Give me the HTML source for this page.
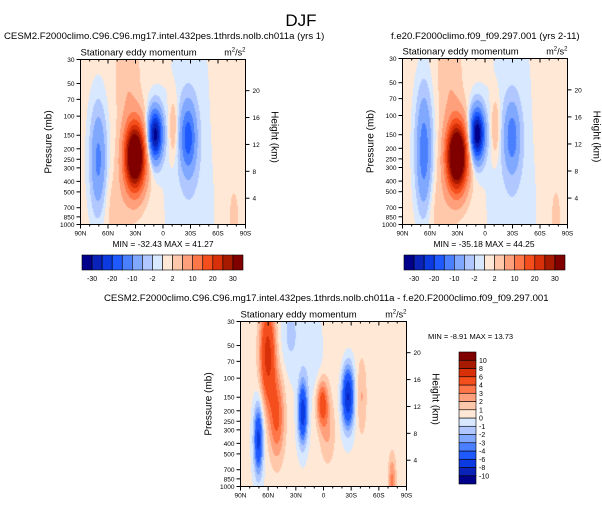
<!DOCTYPE html>
<html><head><meta charset="utf-8"><style>
body{margin:0;background:#fff;width:602px;height:505px;overflow:hidden;position:relative;font-family:"Liberation Sans",sans-serif}
canvas{position:absolute}
svg{position:absolute;left:0;top:0}
</style></head><body>
<canvas id="c1" width="165" height="165" style="left:80px;top:59px"></canvas>
<canvas id="c2" width="165" height="166" style="left:402px;top:58px"></canvas>
<canvas id="c3" width="166" height="165" style="left:240px;top:321px"></canvas>
<svg id="s" width="602" height="505"></svg>
<script>
// ---- data ----
const latTicks=["90N","60N","30N","0","30S","60S","90S"];
const latTickVals=[90,60,30,0,-30,-60,-90];
const pTicks=[30,50,70,100,150,200,250,300,400,500,700,850,1000];
const kmTicks=[4,8,12,16,20];
const levelsA=[-30,-25,-20,-15,-10,-5,-2,0,2,5,10,15,20,25,30];
const labelsA=["-30","-20","-10","-2","2","10","20","30"];
const levelsB=[-10,-8,-6,-4,-3,-2,-1,0,1,2,3,4,6,8,10];
const colors=["#00008a","#0a22b8","#0a3ae0","#1e5aff","#4a80ff","#80a8ff","#b0c8ff","#d8e8ff","#ffe8d6","#ffc8aa","#ffa07c","#ff7648","#f44e1c","#d83008","#a81a00","#800000"];
// panel blobs: lat, pressure(mb), amplitude, lat width, ln-p width
const p1Lat=[30,38,8,70,-28,-12,-30,50,-78,-70];
const p1P=[240,45,150,260,160,130,300,700,900,100];
const p1Amp=[46,4,-33,-12,-17,5,-2.2,2.5,4,1.5];
const p1Wl=[8,9,5.5,6,6,3.5,18,12,3,10];
const p1Wp=[0.5,0.8,0.37,0.75,0.5,0.45,2.0,0.6,0.35,1.0];
const p2Lat=[30,38,8,66,-30,-12,-30,50,-78,-70];
const p2P=[240,45,150,220,160,130,300,700,900,100];
const p2Amp=[48,4,-36,-14,-12,5,-2.2,2.5,4,1.5];
const p2Wl=[8,9,5.5,6,6,3.5,18,12,3,10];
const p2Wp=[0.5,0.8,0.37,0.85,0.5,0.45,2.0,0.6,0.35,1.0];
const p3Lat=[60,50,70,22,1,-27,-5,-42,35,-15,-75,10];
const p3P=[60,230,370,210,170,150,320,150,40,40,900,60];
const p3Amp=[6.5,4,-7,-7.5,4.5,-8.5,1.8,1.8,-1.5,0.6,3,-1.2];
const p3Wl=[6,6,3.5,3.5,4.5,4.5,6,4,8,12,3,8];
const p3Wp=[0.75,0.65,0.5,0.45,0.35,0.45,0.5,0.6,0.6,0.8,0.4,0.7];

function field(lat,p,L,P,A,WL,WP,base){let v=base;const lp=Math.log(p);
 for(let i=0;i<L.length;i++){const dx=(lat-L[i])/WL[i],dy=(lp-Math.log(P[i]))/WP[i];v+=A[i]*Math.exp(-0.5*(dx*dx+dy*dy));}return v;}
function drawField(id,L,P,A,WL,WP,levels,base){
 const c=document.getElementById(id),ctx=c.getContext('2d'),w=c.width,h=c.height;
 for(let y=0;y<h;y++)for(let x=0;x<w;x++){
  const lat=90-180*(x+0.5)/w;const p=30*Math.exp(Math.log(1000/30)*(y+0.5)/h);
  const v=field(lat,p,L,P,A,WL,WP,base);let k=0;while(k<levels.length&&v>=levels[k])k++;
  ctx.fillStyle=colors[k];ctx.fillRect(x,y,1,1);}
}
drawField('c1',p1Lat,p1P,p1Amp,p1Wl,p1Wp,levelsA,0.6);
drawField('c2',p2Lat,p2P,p2Amp,p2Wl,p2Wp,levelsA,0.6);
drawField('c3',p3Lat,p3P,p3Amp,p3Wl,p3Wp,levelsB,0.25);

const S=document.getElementById('s'),NS="http://www.w3.org/2000/svg";
function el(t,a,txt){const e=document.createElementNS(NS,t);for(const k in a)e.setAttribute(k,a[k]);if(txt!==undefined)e.textContent=txt;S.appendChild(e);return e;}
function axes(x0,y0,w,h,name){
 const r=el('rect',{x:x0,y:y0,width:w,height:h,fill:'none',stroke:'#000','stroke-width':1});
 
 const t=el('text',{x:x0,y:y0-4,'font-size':9.5},'Stationary eddy momentum');
 
 const u=el('text',{x:x0+w,y:y0-4,'font-size':9,'text-anchor':'end'});u.innerHTML='m<tspan font-size="6" dy="-4">2</tspan><tspan dy="4">/s</tspan><tspan font-size="6" dy="-4">2</tspan>';
 
 const ly=p=>y0+h*Math.log(p/30)/Math.log(1000/30);
 pTicks.forEach(p=>{const y=ly(p);el('line',{x1:x0-4,x2:x0,y1:y,y2:y,stroke:'#000'});
  const tt=el('text',{x:x0-6,y:y+2.5,'font-size':6.5,'text-anchor':'end'},p);
  });
 kmTicks.forEach(k=>{const p=1013*Math.exp(-k/7);const y=ly(p);el('line',{x1:x0+w,x2:x0+w+4,y1:y,y2:y,stroke:'#000'});
  const tt=el('text',{x:x0+w+7,y:y+2.5,'font-size':6.5},k);
  });
 latTickVals.forEach((v,i)=>{const x=x0+w*(90-v)/180;el('line',{x1:x,x2:x,y1:y0+h,y2:y0+h+4,stroke:'#000'});
  el('line',{x1:x,x2:x,y1:y0,y2:y0+4,stroke:'#000'});
  const tt=el('text',{x:x,y:y0+h+11,'font-size':6.5,'text-anchor':'middle'},latTicks[i]);
  });
 for(let v=80;v>-90;v-=10){if(v%30==0)continue;const x=x0+w*(90-v)/180;el('line',{x1:x,x2:x,y1:y0+h,y2:y0+h+2,stroke:'#000'});el('line',{x1:x,x2:x,y1:y0,y2:y0+2,stroke:'#000'});}
 const yl=el('text',{x:0,y:0,'font-size':10,'text-anchor':'middle',transform:`translate(${x0-29},${y0+h/2}) rotate(-90)`},'Pressure (mb)');
 
 const hl=el('text',{x:0,y:0,'font-size':10,'text-anchor':'middle',transform:`translate(${x0+w+26},${y0+h/2-5}) rotate(90)`},'Height (km)');
 
}
axes(80.5,59.5,165,165,'panel1');
axes(402.5,58.5,165,166,'panel2');
axes(240.5,321.5,166,165,'panel3');

function txt(x,y,s,size,anchor,name){const t=el('text',{x:x,y:y,'font-size':size,'text-anchor':anchor},s);}
txt(301,26,'DJF',17,'middle','main-title');
txt(4,39,'CESM2.F2000climo.C96.C96.mg17.intel.432pes.1thrds.nolb.ch011a (yrs 1)',9.6,'start','panel1-title');
txt(391,39,'f.e20.F2000climo.f09_f09.297.001 (yrs 2-11)',9.6,'start','panel2-title');
txt(104,301,'CESM2.F2000climo.C96.C96.mg17.intel.432pes.1thrds.nolb.ch011a - f.e20.F2000climo.f09_f09.297.001',9.6,'start','panel3-title');
txt(163,247,'MIN = -32.43  MAX =  41.27',8.5,'middle','panel1-minmax');
txt(484,247,'MIN = -35.18  MAX =  44.25',8.5,'middle','panel2-minmax');
txt(428,339,'MIN =  -8.91  MAX =  13.73',7.5,'start','panel3-minmax');

function hbar(x0,y0,w,h,name){const cw=w/16;
 colors.forEach((c,i)=>{const r=el('rect',{x:x0+i*cw,y:y0,width:cw,height:h,fill:c,stroke:'#000','stroke-width':0.6});});
 labelsA.forEach((l,i)=>{const x=x0+cw*(1+2*i);txt(x,y0+h+11,l,7,'middle',name+'-label');});}
hbar(82,255,161,15,'colorbar-1');
hbar(404,255,161,15,'colorbar-2');
(function(){const x0=459,y0=352,w=17,h=132,ch=h/16;
 colors.forEach((c,i)=>{const r=el('rect',{x:x0,y:y0+h-(i+1)*ch,width:w,height:ch,fill:c,stroke:'#000','stroke-width':0.6});});
 levelsB.forEach((l,i)=>{const y=y0+h-(i+1)*ch;txt(x0+w+3,y+2.5,l,7,'start','colorbar-3-label');});})();
</script>
</body></html>
